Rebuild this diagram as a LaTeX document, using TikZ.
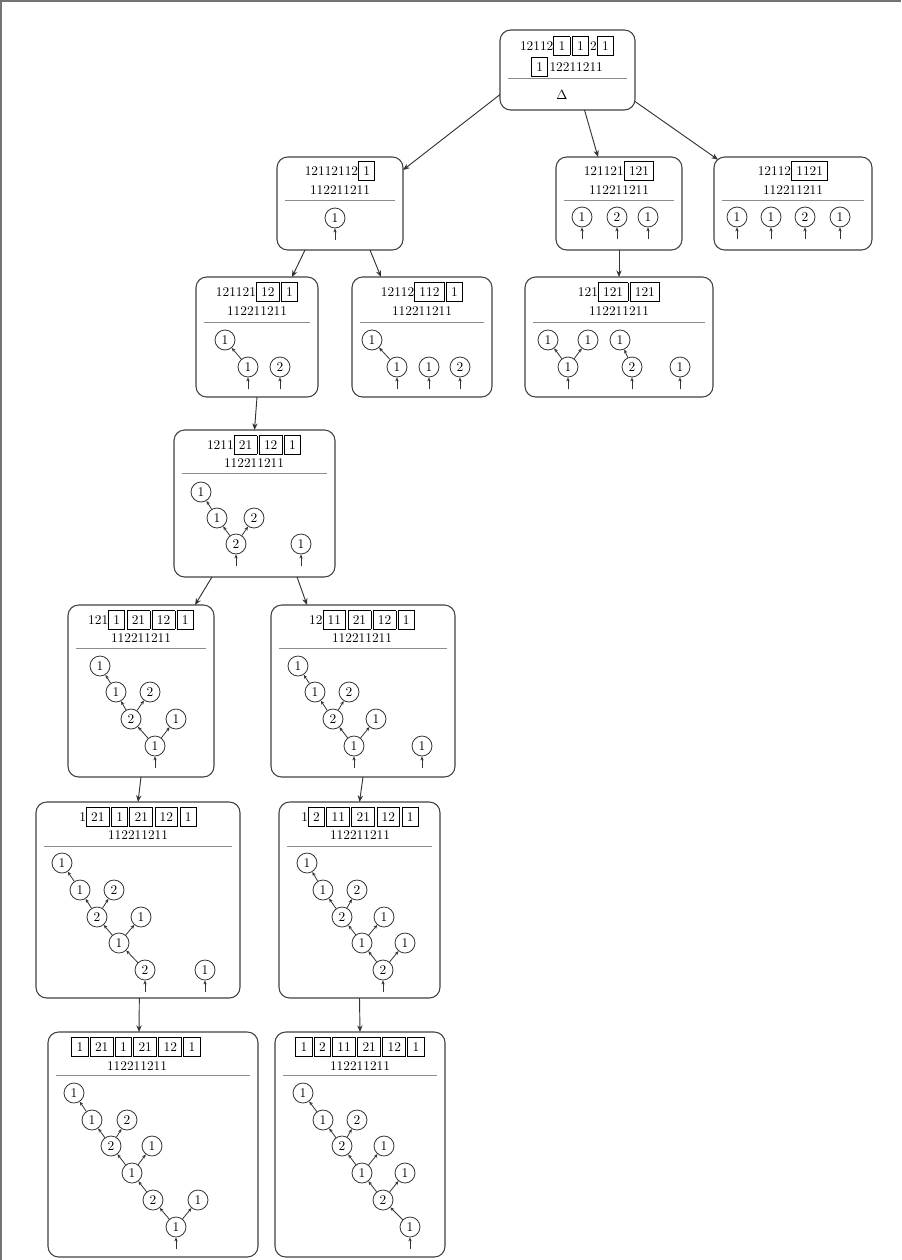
\documentclass[tikz,border=0pt]{standalone}
\usetikzlibrary{arrows.meta}
\setlength\fboxsep{3.3pt}
\setlength\fboxrule{0.6pt}
\newcommand\bx[1]{\fbox{#1}\hspace{1pt}}
\newcommand\mkbox[6]{%
  \node[bigbox, anchor=north west, minimum width={(#4-#2)*0.75pt}, minimum height={(#5-#3)*0.75pt}] (#1) at (#2,#3) {};
  \draw[sepl] (#2+8,#6) -- (#4-8,#6);}
\tikzset{
  bigbox/.style={draw=black!75, line width=0.8pt, rounded corners=8pt, inner sep=0pt, outer sep=0pt},
  sepl/.style={draw=black!45, line width=0.6pt},
  lab/.style={font=\fontsize{10}{12}\selectfont, inner sep=0pt},
  cn/.style={circle, draw=black!80, line width=0.6pt, minimum size=15pt, inner sep=0pt, font=\fontsize{10}{12}\selectfont},
  te/.style={-{Stealth[length=3pt,width=2.5pt]}, line width=0.6pt, draw=black!80},
  conn/.style={-{Stealth[length=5pt,width=4pt]}, line width=0.7pt, draw=black!80},
}
\newcommand\stub[1]{\draw[te] ([yshift=-9pt]#1.south) -- (#1.south);}
\begin{document}
\begin{tikzpicture}[x=0.75pt,y=-0.75pt]
\useasboundingbox (0,0) rectangle (901,1260);
\draw[black!55, line width=1.2pt] (1,1260) -- (1,1) -- (901,1);

% B1
\mkbox{b1}{500}{30}{635}{110}{78}
\node[lab] (b1r1) at (567,46) {12112\bx{1}\bx{1}2\bx{1}};
\node[lab] (b1r2) at (567,67) {\bx{1}12211211};
\node[lab] (b1d) at (562,95) {$\Delta$};

% B2
\mkbox{b2}{277}{157}{403}{250}{200}
\node[lab] (b2r1) at (340,171) {12112112\bx{1}};
\node[lab] (b2r2) at (340,190) {112211211};
\node[cn] (b2a) at (335,218) {1};
\stub{b2a}

% B3
\mkbox{b3}{556}{157}{682}{250}{200}
\node[lab] (b3r1) at (619,171) {121121\bx{121}};
\node[lab] (b3r2) at (619,190) {112211211};
\node[cn] (b3a) at (582,217) {1};
\node[cn] (b3b) at (617,217) {2};
\node[cn] (b3c) at (648,217) {1};
\stub{b3a}\stub{b3b}\stub{b3c}

% B4
\mkbox{b4}{714}{157}{872}{250}{200}
\node[lab] (b4r1) at (793,171) {12112\bx{1121}};
\node[lab] (b4r2) at (793,190) {112211211};
\node[cn] (b4a) at (737,217) {1};
\node[cn] (b4b) at (771,217) {1};
\node[cn] (b4c) at (805,217) {2};
\node[cn] (b4d) at (840,217) {1};
\stub{b4a}\stub{b4b}\stub{b4c}\stub{b4d}

% B5
\mkbox{b5}{196}{277}{318}{397}{322}
\node[lab] (b5r1) at (257,292) {121121\bx{12}\bx{1}};
\node[lab] (b5r2) at (257,311) {112211211};
\node[cn] (b5a) at (225,340) {1};
\node[cn] (b5b) at (248,367) {1};
\node[cn] (b5c) at (280,367) {2};
\draw[te] (b5b) -- (b5a);
\stub{b5b}\stub{b5c}

% B6
\mkbox{b6}{352}{277}{492}{397}{322}
\node[lab] (b6r1) at (422,292) {12112\bx{112}\bx{1}};
\node[lab] (b6r2) at (422,311) {112211211};
\node[cn] (b6a) at (372,340) {1};
\node[cn] (b6b) at (397,367) {1};
\node[cn] (b6c) at (429,367) {1};
\node[cn] (b6d) at (460,367) {2};
\draw[te] (b6b) -- (b6a);
\stub{b6b}\stub{b6c}\stub{b6d}

% B7
\mkbox{b7}{525}{277}{713}{397}{322}
\node[lab] (b7r1) at (619,292) {121\bx{121}\bx{121}};
\node[lab] (b7r2) at (619,311) {112211211};
\node[cn] (b7a) at (548,340) {1};
\node[cn] (b7b) at (588,340) {1};
\node[cn] (b7c) at (620,340) {1};
\node[cn] (b7d) at (568,367) {1};
\node[cn] (b7e) at (632,367) {2};
\node[cn] (b7f) at (680,367) {1};
\draw[te] (b7d) -- (b7a);
\draw[te] (b7d) -- (b7b);
\draw[te] (b7e) -- (b7c);
\stub{b7d}\stub{b7e}\stub{b7f}

% B8
\mkbox{b8}{174}{430}{335}{577}{473}
\node[lab] (b8r1) at (254,445) {1211\bx{21}\bx{12}\bx{1}};
\node[lab] (b8r2) at (254,463) {112211211};
\node[cn] (b8a) at (201,492) {1};
\node[cn] (b8b) at (217,518) {1};
\node[cn] (b8c) at (254,518) {2};
\node[cn] (b8d) at (236,544) {2};
\node[cn] (b8e) at (301,544) {1};
\draw[te] (b8b) -- (b8a);
\draw[te] (b8d) -- (b8b);
\draw[te] (b8d) -- (b8c);
\stub{b8d}\stub{b8e}

% B9
\mkbox{b9}{68}{605}{214}{777}{648}
\node[lab] (b9r1) at (141,620) {121\bx{1}\bx{21}\bx{12}\bx{1}};
\node[lab] (b9r2) at (141,638) {112211211};
\node[cn] (b9a) at (100,666) {1};
\node[cn] (b9b) at (116,692) {1};
\node[cn] (b9c) at (150,692) {2};
\node[cn] (b9d) at (131,719) {2};
\node[cn] (b9e) at (176,719) {1};
\node[cn] (b9f) at (155,746) {1};
\draw[te] (b9b) -- (b9a);
\draw[te] (b9d) -- (b9b);
\draw[te] (b9d) -- (b9c);
\draw[te] (b9f) -- (b9d);
\draw[te] (b9f) -- (b9e);
\stub{b9f}

% B10
\mkbox{b10}{271}{605}{455}{777}{648}
\node[lab] (b10r1) at (362,620) {12\bx{11}\bx{21}\bx{12}\bx{1}};
\node[lab] (b10r2) at (362,638) {112211211};
\node[cn] (b10a) at (298,666) {1};
\node[cn] (b10b) at (315,692) {1};
\node[cn] (b10c) at (349,692) {2};
\node[cn] (b10d) at (333,719) {2};
\node[cn] (b10e) at (376,719) {1};
\node[cn] (b10f) at (354,746) {1};
\node[cn] (b10g) at (422,746) {1};
\draw[te] (b10b) -- (b10a);
\draw[te] (b10d) -- (b10b);
\draw[te] (b10d) -- (b10c);
\draw[te] (b10f) -- (b10d);
\draw[te] (b10f) -- (b10e);
\stub{b10f}\stub{b10g}

% B11
\mkbox{b11}{36}{802}{240}{998}{846}
\node[lab] (b11r1) at (138,817) {1\bx{21}\bx{1}\bx{21}\bx{12}\bx{1}};
\node[lab] (b11r2) at (138,835) {112211211};
\node[cn] (b11a) at (62,863) {1};
\node[cn] (b11b) at (80,890) {1};
\node[cn] (b11c) at (114,890) {2};
\node[cn] (b11d) at (97,917) {2};
\node[cn] (b11e) at (141,917) {1};
\node[cn] (b11f) at (119,943) {1};
\node[cn] (b11g) at (145,970) {2};
\node[cn] (b11h) at (205,970) {1};
\draw[te] (b11b) -- (b11a);
\draw[te] (b11d) -- (b11b);
\draw[te] (b11d) -- (b11c);
\draw[te] (b11f) -- (b11d);
\draw[te] (b11f) -- (b11e);
\draw[te] (b11g) -- (b11f);
\stub{b11g}\stub{b11h}

% B12
\mkbox{b12}{279}{802}{440}{998}{846}
\node[lab] (b12r1) at (360,817) {1\bx{2}\bx{11}\bx{21}\bx{12}\bx{1}};
\node[lab] (b12r2) at (360,835) {112211211};
\node[cn] (b12a) at (307,863) {1};
\node[cn] (b12b) at (323,890) {1};
\node[cn] (b12c) at (357,890) {2};
\node[cn] (b12d) at (342,917) {2};
\node[cn] (b12e) at (384,917) {1};
\node[cn] (b12f) at (362,943) {1};
\node[cn] (b12g) at (405,943) {1};
\node[cn] (b12h) at (383,970) {2};
\draw[te] (b12b) -- (b12a);
\draw[te] (b12d) -- (b12b);
\draw[te] (b12d) -- (b12c);
\draw[te] (b12f) -- (b12d);
\draw[te] (b12f) -- (b12e);
\draw[te] (b12h) -- (b12f);
\draw[te] (b12h) -- (b12g);
\stub{b12h}

% B13
\mkbox{b13}{48}{1032}{258}{1257}{1075}
\node[lab] (b13r1) at (136,1047) {\bx{1}\bx{21}\bx{1}\bx{21}\bx{12}\bx{1}};
\node[lab] (b13r2) at (137,1066) {112211211};
\node[cn] (b13a) at (74,1093) {1};
\node[cn] (b13b) at (92,1120) {1};
\node[cn] (b13c) at (127,1120) {2};
\node[cn] (b13d) at (111,1146) {2};
\node[cn] (b13e) at (152,1146) {1};
\node[cn] (b13f) at (132,1173) {1};
\node[cn] (b13g) at (153,1200) {2};
\node[cn] (b13h) at (198,1200) {1};
\node[cn] (b13i) at (176,1227) {1};
\draw[te] (b13b) -- (b13a);
\draw[te] (b13d) -- (b13b);
\draw[te] (b13d) -- (b13c);
\draw[te] (b13f) -- (b13d);
\draw[te] (b13f) -- (b13e);
\draw[te] (b13g) -- (b13f);
\draw[te] (b13i) -- (b13g);
\draw[te] (b13i) -- (b13h);
\stub{b13i}

% B14
\mkbox{b14}{275}{1032}{445}{1257}{1075}
\node[lab] (b14r1) at (360,1047) {\bx{1}\bx{2}\bx{11}\bx{21}\bx{12}\bx{1}};
\node[lab] (b14r2) at (360,1066) {112211211};
\node[cn] (b14a) at (303,1093) {1};
\node[cn] (b14b) at (323,1120) {1};
\node[cn] (b14c) at (357,1120) {2};
\node[cn] (b14d) at (342,1146) {2};
\node[cn] (b14e) at (384,1146) {1};
\node[cn] (b14f) at (362,1173) {1};
\node[cn] (b14g) at (405,1173) {1};
\node[cn] (b14h) at (383,1200) {2};
\node[cn] (b14i) at (410,1227) {1};
\draw[te] (b14b) -- (b14a);
\draw[te] (b14d) -- (b14b);
\draw[te] (b14d) -- (b14c);
\draw[te] (b14f) -- (b14d);
\draw[te] (b14f) -- (b14e);
\draw[te] (b14h) -- (b14f);
\draw[te] (b14h) -- (b14g);
\draw[te] (b14i) -- (b14h);
\stub{b14i}

% connectors between boxes
\draw[conn] (b1.200) -- (b2.28);
\draw[conn] ([xshift=12.75pt]b1.south) -- ([xshift=-15.75pt]b3.north);
\draw[conn] (b1.-25) -- ([xshift=3pt,yshift=-2pt]b4.north west);
\draw[conn] ([xshift=-26.25pt]b2.south) -- ([xshift=26.25pt]b5.north);
\draw[conn] ([xshift=22.5pt]b2.south) -- ([xshift=-30.75pt]b6.north);
\draw[conn] (b3.south) -- (b7.north);
\draw[conn] (b5.south) -- (b8.north);
\draw[conn] ([xshift=-31.9pt]b8.south) -- ([xshift=40.5pt]b9.north);
\draw[conn] ([xshift=31.9pt]b8.south) -- ([xshift=-42pt]b10.north);
\draw[conn] (b9.south) -- (b11.north);
\draw[conn] (b10.south) -- (b12.north);
\draw[conn] ([xshift=1pt]b11.south) -- ([xshift=-10.5pt]b13.north);
\draw[conn] (b12.south) -- (b14.north);
\end{tikzpicture}
\end{document}
